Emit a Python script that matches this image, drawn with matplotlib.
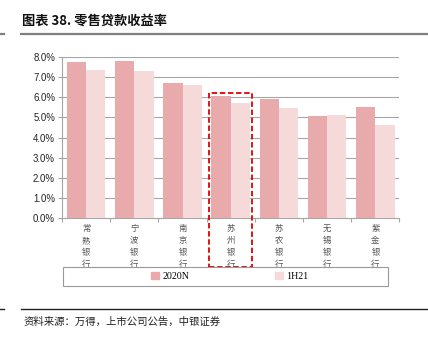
import matplotlib
matplotlib.use('Agg')
import matplotlib.pyplot as plt
from matplotlib.patches import Rectangle, Patch
from matplotlib.lines import Line2D
import numpy as np

plt.rcParams['font.family'] = ['Liberation Sans', 'Noto Sans CJK SC', 'DejaVu Sans']

# 数据
banks = ['常熟银行', '宁波银行', '南京银行', '苏州银行', '苏农银行', '无锡银行', '紫金银行']
y2020 = [7.74, 7.80, 6.70, 6.05, 5.92, 5.09, 5.51]
h2021 = [7.36, 7.31, 6.63, 5.72, 5.47, 5.11, 4.63]
series_names = ['2020N', '1H21']
yticks = [0, 1, 2, 3, 4, 5, 6, 7, 8]

c1 = '#E8AAAA'
c2 = '#F6DADA'
grey = '#A6A6A6'
cjk = ['Noto Sans CJK SC', 'DejaVu Sans']

fig = plt.figure(figsize=(4.28, 3.43), dpi=100)
W, H = 428, 343
ax = fig.add_axes([62 / W, 1 - 218 / H, (399.5 - 62) / W, (218 - 57) / H])

x = np.arange(len(banks))
bw = 0.4
ax.bar(x - bw / 2, y2020, bw, color=c1, zorder=3)
ax.bar(x + bw / 2, h2021, bw, color=c2, zorder=3)

ax.set_xlim(-0.5, len(banks) - 0.5)
ax.set_ylim(0, 8)
ax.set_yticks(yticks)
ax.set_yticklabels(['%.1f%%' % v for v in yticks], fontsize=6.9, color='#222222')
ax.yaxis.grid(True, color=grey, lw=0.8, zorder=0)
ax.set_axisbelow(True)

# 竖排分类标签
ax.set_xticks(x)
ax.set_xticklabels(['\n'.join(b) for b in banks], fontsize=6, family=cjk,
                   color='#555555', linespacing=1.45, va='top')
ax.tick_params(axis='x', which='major', length=0, pad=4)
ax.set_xticks(np.arange(-0.5, len(banks), 1), minor=True)
ax.tick_params(axis='x', which='minor', length=3, color=grey, width=0.8)
ax.tick_params(axis='y', length=3, color=grey, width=0.8, pad=2)

for s in ['top', 'right']:
    ax.spines[s].set_visible(False)
ax.spines['left'].set_color(grey)
ax.spines['bottom'].set_color(grey)
ax.spines['left'].set_linewidth(0.8)
ax.spines['bottom'].set_linewidth(0.8)

# 苏州银行 红框
i = banks.index('苏州银行')
ax.add_patch(Rectangle((i - 0.45, -2.42), 0.89, 6.23 + 2.42, fill=False,
                       ec='#E00000', ls=(0, (3, 1.5)), lw=1.3, clip_on=False, zorder=5))

# 图例
fig.patches.append(Rectangle((63 / W, 1 - 286 / H), (388 - 63) / W, (286 - 266.5) / H,
                             transform=fig.transFigure, fill=False, ec='#999999', lw=0.8))
handles = [Patch(color=c1), Patch(color=c2)]
fig.legend(handles, series_names, loc='center', bbox_to_anchor=(230 / W, 1 - 276.5 / H),
           ncol=2, frameon=False, prop={'family': 'Liberation Serif', 'size': 7.2},
           handlelength=0.75, handleheight=0.75, handletextpad=0.35, columnspacing=8.6)

# 标题与线
fig.text(22 / W, 1 - 21 / H, '图表 38. 零售贷款收益率', fontsize=9.5, fontweight='bold',
         family=cjk, va='center', ha='left', color='#111111')
fig.add_artist(Line2D([21 / W, 1], [1 - 34 / H] * 2, color='#7F7F7F', lw=1.6))
fig.add_artist(Line2D([0, 4 / W], [1 - 34 / H] * 2, color='#7F7F7F', lw=1.6))
fig.add_artist(Line2D([21 / W, 1], [1 - 309 / H] * 2, color='#222222', lw=1.0))
fig.add_artist(Line2D([0, 4 / W], [1 - 309 / H] * 2, color='#222222', lw=1.0))

fig.text(24 / W, 1 - 322 / H, '资料来源：万得，上市公司公告，中银证券', fontsize=7.5,
         family=cjk, va='center', ha='left', color='#222222')

plt.savefig('out.png', dpi=100)
